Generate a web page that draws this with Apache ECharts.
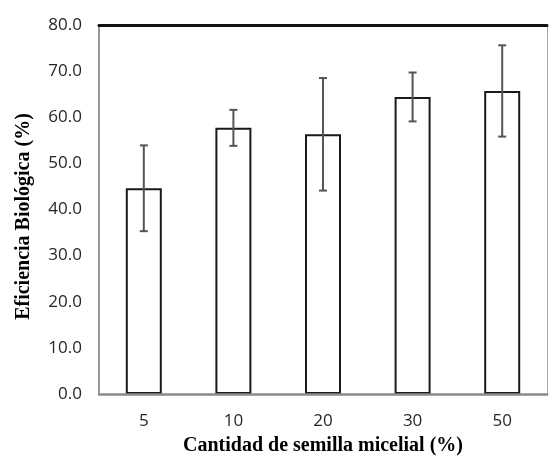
<!DOCTYPE html>
<html>
<head>
<meta charset="utf-8">
<script src="https://cdn.jsdelivr.net/npm/echarts@6/dist/echarts.min.js"></script>
<style>html,body{margin:0;padding:0;background:#fff;}#c{width:549px;height:461px;}</style>
</head>
<body>
<div id="c"></div>
<script>
const categories = ['5', '10', '20', '30', '50'];
const means = [44.6, 57.7, 56.3, 64.4, 65.7];
const errors = [9.3, 3.9, 12.2, 5.3, 9.9];
const yTicks = [0, 10, 20, 30, 40, 50, 60, 70, 80];

const errData = means.map((m, i) => [i, m - errors[i], m + errors[i]]);

const chart = echarts.init(document.getElementById('c'));
chart.setOption({
  animation: false,
  grid: { left: 99, right: 2, top: 25, bottom: 63 },
  xAxis: [{
    type: 'category',
    data: categories,
    boundaryGap: true,
    z: 5,
    axisLine: { onZero: false, lineStyle: { color: '#8a8a8a', width: 2.5 } },
    axisTick: { show: false },
    axisLabel: { color: '#262626', fontFamily: 'Open Sans', fontSize: 17, margin: 19 },
    name: 'Cantidad de semilla micelial (%)',
    nameLocation: 'middle',
    nameGap: 42,
    nameTextStyle: { color: '#000', fontFamily: 'Liberation Serif', fontWeight: 'bold', fontSize: 20 }
  }, {
    type: 'category',
    data: categories,
    position: 'top',
    axisLine: { onZero: false, lineStyle: { color: '#111', width: 3 } },
    axisTick: { show: false },
    axisLabel: { show: false }
  }],
  yAxis: [{
    type: 'value',
    min: yTicks[0],
    max: yTicks[yTicks.length - 1],
    interval: 10,
    axisLine: { show: true, onZero: false, lineStyle: { color: '#999', width: 2 } },
    axisTick: { show: false },
    splitLine: { show: false },
    axisLabel: { color: '#262626', fontFamily: 'Open Sans', fontSize: 17, margin: 17, formatter: v => v.toFixed(1) },
    name: 'Eficiencia Biológica (%)',
    nameLocation: 'middle',
    nameGap: 65,
    nameTextStyle: { color: '#000', fontFamily: 'Liberation Serif', fontWeight: 'bold', fontSize: 20, padding: [0, 14, 0, 0] }
  }, {
    type: 'value',
    position: 'right',
    min: 0, max: 80,
    axisLine: { show: true, onZero: false, lineStyle: { color: '#aaa', width: 1 } },
    axisTick: { show: false },
    axisLabel: { show: false },
    splitLine: { show: false }
  }],
  series: [{
    type: 'bar',
    data: means,
    barWidth: 36,
    itemStyle: { color: '#fff', borderColor: '#1a1a1a', borderWidth: 2 },
    z: 2
  }, {
    type: 'custom',
    data: errData,
    z: 3,
    renderItem: function (params, api) {
      const i = api.value(0);
      const lo = api.coord([i, api.value(1)]);
      const hi = api.coord([i, api.value(2)]);
      const hw = 4;
      const style = { stroke: '#555', lineWidth: 2, fill: null };
      return {
        type: 'group',
        children: [
          { type: 'line', shape: { x1: hi[0], y1: hi[1], x2: lo[0], y2: lo[1] }, style },
          { type: 'line', shape: { x1: hi[0] - hw, y1: hi[1], x2: hi[0] + hw, y2: hi[1] }, style },
          { type: 'line', shape: { x1: lo[0] - hw, y1: lo[1], x2: lo[0] + hw, y2: lo[1] }, style }
        ]
      };
    }
  }]
});
</script>
</body>
</html>
